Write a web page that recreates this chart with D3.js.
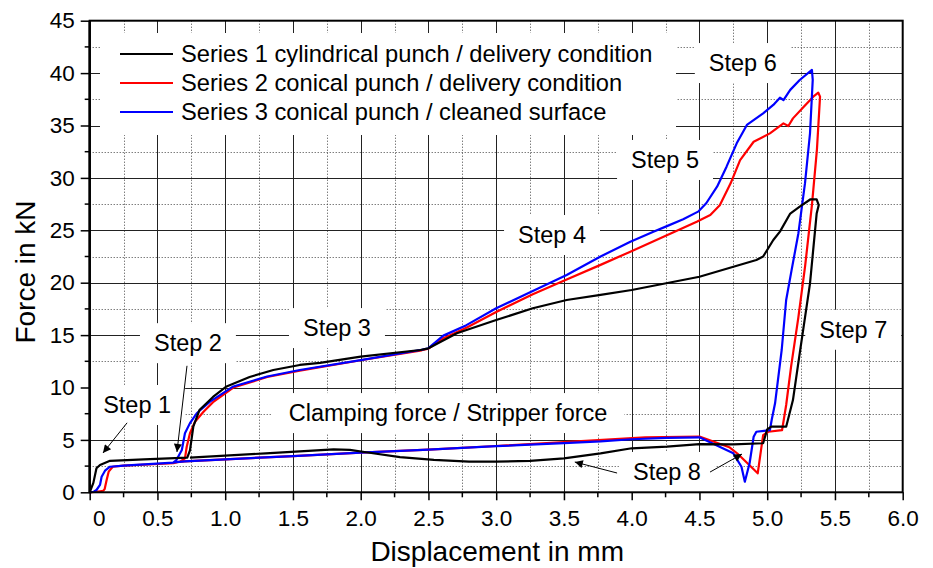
<!DOCTYPE html>
<html>
<head>
<meta charset="utf-8">
<script src="https://cdn.jsdelivr.net/npm/d3@7"></script>
<style>
  body { margin: 0; background: #fff; }
  text { font-family: "Liberation Sans", Arial, sans-serif; fill: #000; }
</style>
</head>
<body>
<div id="chart"></div>
<script>
// series 1: cylindrical punch / delivery condition (black)
const s1x = [0, 0.027, 0.05, 0.076, 0.15, 0.4, 0.72, 0.74, 0.765, 0.81, 0.91, 1.01, 1.18, 1.355, 1.55, 1.70, 2.0, 2.44, 2.5, 2.71, 3.0, 3.27, 3.52, 3.77, 4.0, 4.5, 4.92, 4.97, 5.045, 5.094, 5.17, 5.24, 5.32, 5.365, 5.38, 5.365, 5.316, 5.24, 5.19, 5.14, 5.03, 5.0, 4.97, 4.75, 4.5, 4.26, 4.0, 3.77, 3.5, 3.25, 3.0, 2.8, 2.54, 2.29, 2.04, 1.92, 1.8, 1.3, 0.74];
const s1y = [0, 0.9, 2.3, 2.6, 3.0, 3.15, 3.3, 4.0, 6.3, 7.85, 9.1, 10.1, 11.0, 11.67, 12.15, 12.35, 12.94, 13.58, 13.74, 15.17, 16.44, 17.56, 18.35, 18.83, 19.3, 20.57, 22.17, 22.5, 24.07, 24.87, 26.6, 27.25, 27.96, 27.96, 27.4, 26.6, 19.94, 13.26, 8.8, 6.26, 6.26, 6.0, 4.68, 4.58, 4.6, 4.35, 4.2, 3.72, 3.24, 3.0, 2.92, 2.92, 3.1, 3.35, 3.82, 4.05, 4.1, 3.72, 3.3];

// series 2: conical punch / delivery condition (red)
const s2x = [0, 0.05, 0.1, 0.11, 0.125, 0.14, 0.17, 0.25, 0.617, 0.666, 0.703, 0.716, 0.74, 0.777, 0.84, 0.91, 1.06, 1.31, 1.55, 1.70, 2.0, 2.45, 2.5, 2.61, 2.78, 3.0, 3.27, 3.52, 3.77, 3.99, 4.48, 4.58, 4.65, 4.73, 4.80, 4.90, 5.02, 5.12, 5.156, 5.19, 5.27, 5.34, 5.377, 5.39, 5.367, 5.33, 5.28, 5.23, 5.176, 5.14, 5.11, 5.008, 4.97, 4.93, 4.86, 4.78, 4.72, 4.5, 4.1, 3.5, 3.0, 2.5, 2.0, 1.5, 1.0, 0.7, 0.62];
const s2y = [0, 0.05, 0.15, 0.3, 1.17, 1.97, 2.44, 2.54, 2.77, 2.92, 3.24, 4.35, 5.63, 6.74, 7.69, 8.6, 10.0, 11.0, 11.6, 11.95, 12.6, 13.55, 13.7, 14.7, 15.7, 17.2, 18.9, 20.3, 21.7, 22.96, 25.82, 26.46, 27.4, 29.48, 31.7, 33.45, 34.25, 35.2, 34.95, 35.68, 36.8, 37.75, 38.13, 37.75, 32.7, 27.4, 21.6, 16.7, 11.96, 8.33, 5.94, 5.78, 5.46, 1.81, 2.7, 3.7, 4.3, 5.32, 5.25, 4.78, 4.42, 4.08, 3.78, 3.45, 3.15, 2.95, 2.85];

// series 3: conical punch / cleaned surface (blue)
const s3x = [0, 0.03, 0.05, 0.076, 0.088, 0.113, 0.15, 0.25, 0.617, 0.64, 0.68, 0.703, 0.74, 0.79, 0.888, 1.06, 1.31, 1.55, 2.0, 2.45, 2.5, 2.61, 2.78, 3.0, 3.27, 3.52, 3.77, 3.99, 4.16, 4.26, 4.38, 4.49, 4.55, 4.63, 4.70, 4.775, 4.85, 4.97, 5.045, 5.094, 5.12, 5.17, 5.24, 5.33, 5.336, 5.316, 5.279, 5.23, 5.18, 5.14, 5.107, 5.058, 5.033, 5.02, 4.92, 4.90, 4.87, 4.835, 4.81, 4.75, 4.5, 4.26, 4.0, 3.77, 3.5, 3.0, 2.5, 2.0, 1.5, 1.0, 0.7, 0.62];
const s3y = [0, 0.05, 0.22, 0.7, 1.49, 2.06, 2.44, 2.54, 2.83, 3.08, 4.04, 5.63, 6.6, 7.54, 8.65, 10.1, 11.05, 11.67, 12.62, 13.6, 13.75, 14.95, 15.95, 17.56, 19.2, 20.73, 22.5, 23.9, 24.87, 25.4, 26.05, 26.78, 27.58, 29.16, 31.07, 33.3, 35.05, 36.16, 36.96, 37.65, 37.43, 38.4, 39.34, 40.3, 39.35, 34.26, 29.5, 24.7, 21.2, 18.35, 13.58, 8.49, 6.9, 5.94, 5.78, 5.3, 2.77, 1.01, 2.44, 3.72, 5.25, 5.2, 5.06, 4.85, 4.7, 4.4, 4.08, 3.78, 3.45, 3.15, 2.95, 2.85];

const seriesNames = ["Series 1 cylindrical punch / delivery condition",
                     "Series 2 conical punch / delivery condition",
                     "Series 3 conical punch / cleaned surface"];
const seriesColors = ["#000000", "#ff0000", "#0000ff"];

const xTicks = [0, 0.5, 1.0, 1.5, 2.0, 2.5, 3.0, 3.5, 4.0, 4.5, 5.0, 5.5, 6.0];
const xTickLabels = ["0", "0.5", "1.0", "1.5", "2.0", "2.5", "3.0", "3.5", "4.0", "4.5", "5.0", "5.5", "6.0"];
const yTicks = [0, 5, 10, 15, 20, 25, 30, 35, 40, 45];

// annotations (data units)
const noteText = ["Step 1", "Step 2", "Step 3", "Step 4", "Step 5", "Step 6", "Step 7", "Step 8", "Clamping force / Stripper force"];
const noteX = [0.35, 0.725, 1.825, 3.412, 4.246, 4.82, 5.635, 4.26, 2.645];
const noteY = [8.33, 14.23, 15.67, 24.55, 31.71, 40.96, 15.51, 1.94, 7.56];
const arrowFrom = [[0.276, 6.63], [0.718, 12.07], [3.892, 1.84], [4.578, 1.93]];
const arrowTo = [[0.098, 3.75], [0.644, 3.85], [3.58, 2.89], [4.814, 3.65]];

const width = 933, height = 568;
const pLeft = 89.7, pRight = 902.7, pTop = 20.7, pBottom = 492.3;

const svg = d3.select("#chart").append("svg")
    .attr("width", width).attr("height", height);

const x = d3.scaleLinear().domain([0, 6]).range([pLeft, pRight]);
const y = d3.scaleLinear().domain([0, 45]).range([pBottom, pTop]);

// grid
const grid = svg.append("g");
const xMinor = d3.range(0.25, 6, 0.5);
const xMajor = d3.range(0.5, 6, 0.5);
const yMinor = d3.range(2.5, 45, 5);
const yMajor = d3.range(5, 45, 5);

grid.selectAll(".xmin").data(xMinor).join("line")
    .attr("x1", d => Math.round(x(d)) + 0.5).attr("x2", d => Math.round(x(d)) + 0.5)
    .attr("y1", pTop).attr("y2", pBottom)
    .attr("stroke", "#444").attr("stroke-width", 1).attr("stroke-dasharray", "1,2");
grid.selectAll(".ymin").data(yMinor).join("line")
    .attr("y1", d => Math.round(y(d)) + 0.5).attr("y2", d => Math.round(y(d)) + 0.5)
    .attr("x1", pLeft).attr("x2", pRight)
    .attr("stroke", "#444").attr("stroke-width", 1).attr("stroke-dasharray", "1,2");
grid.selectAll(".xmaj").data(xMajor).join("line")
    .attr("x1", d => Math.round(x(d)) + 0.5).attr("x2", d => Math.round(x(d)) + 0.5)
    .attr("y1", pTop).attr("y2", pBottom)
    .attr("stroke", "#222").attr("stroke-width", 1);
grid.selectAll(".ymaj").data(yMajor).join("line")
    .attr("y1", d => Math.round(y(d)) + 0.5).attr("y2", d => Math.round(y(d)) + 0.5)
    .attr("x1", pLeft).attr("x2", pRight)
    .attr("stroke", "#222").attr("stroke-width", 1);

// white label boxes covering grid
const boxes = svg.append("g");
const notes = svg.append("g").attr("font-size", 23.5);

// legend box
boxes.append("rect").attr("x", 100).attr("y", 33).attr("width", 576).attr("height", 102).attr("fill", "#fff");

noteText.forEach((t, i) => {
  const tx = notes.append("text")
      .attr("x", x(noteX[i])).attr("y", y(noteY[i]))
      .attr("dy", "0.35em").attr("text-anchor", "middle")
      .text(t);
  const bb = tx.node().getBBox();
  const padX = i === 8 ? 17 : 14;
  boxes.append("rect")
      .attr("x", bb.x - padX).attr("y", y(noteY[i]) - 20)
      .attr("width", bb.width + 2 * padX).attr("height", 40)
      .attr("fill", "#fff");
});

// curves
const line = d3.line().x(d => x(d[0])).y(d => y(d[1]));
const allSeries = [d3.zip(s1x, s1y), d3.zip(s2x, s2y), d3.zip(s3x, s3y)];
const curves = svg.append("g");
[1, 2, 0].forEach(i => {
  curves.append("path")
      .datum(allSeries[i])
      .attr("d", line)
      .attr("fill", "none")
      .attr("stroke", seriesColors[i])
      .attr("stroke-width", 2.2)
      .attr("stroke-linejoin", "round");
});

// arrows
svg.append("defs").append("marker")
    .attr("id", "ah").attr("viewBox", "0 0 10 10")
    .attr("refX", 10).attr("refY", 5)
    .attr("markerWidth", 12).attr("markerHeight", 8)
    .attr("markerUnits", "userSpaceOnUse")
    .attr("orient", "auto")
  .append("path").attr("d", "M0,0L10,5L0,10Z").attr("fill", "#000");

svg.append("g").selectAll("line").data(d3.zip(arrowFrom, arrowTo)).join("line")
    .attr("x1", d => x(d[0][0])).attr("y1", d => y(d[0][1]))
    .attr("x2", d => x(d[1][0])).attr("y2", d => y(d[1][1]))
    .attr("stroke", "#000").attr("stroke-width", 1)
    .attr("marker-end", "url(#ah)");

svg.node().appendChild(notes.node());

// legend
const legend = svg.append("g").attr("font-size", 23.7);
seriesNames.forEach((n, i) => {
  const ly = 54 + i * 29;
  legend.append("line").attr("x1", 120).attr("x2", 173).attr("y1", ly).attr("y2", ly)
      .attr("stroke", seriesColors[i]).attr("stroke-width", 2);
  legend.append("text").attr("x", 181).attr("y", ly).attr("dy", "0.35em").text(n);
});

// axes
const xAxis = svg.append("g")
    .attr("transform", `translate(0,${pBottom})`)
    .call(d3.axisBottom(x).tickValues(xTicks).tickFormat((d, i) => xTickLabels[i]).tickSize(8).tickPadding(10));
xAxis.selectAll("text").attr("font-size", 22.5).attr("font-family", "Liberation Sans, Arial, sans-serif");
xAxis.selectAll(".tick text").filter(d => d === 0).attr("dx", 9);
xAxis.selectAll(".tick line").attr("stroke-width", 1.5);
xAxis.select(".domain").remove();

svg.append("g").selectAll("line").data(d3.range(0.25, 6, 0.5)).join("line")
    .attr("x1", d => x(d)).attr("x2", d => x(d))
    .attr("y1", pBottom).attr("y2", pBottom + 5)
    .attr("stroke", "#000").attr("stroke-width", 1.5);

const yAxis = svg.append("g")
    .attr("transform", `translate(${pLeft},0)`)
    .call(d3.axisLeft(y).tickValues(yTicks).tickSize(9).tickPadding(6));
yAxis.selectAll("text").attr("font-size", 22.5).attr("font-family", "Liberation Sans, Arial, sans-serif");
yAxis.selectAll(".tick line").attr("stroke-width", 1.5);
yAxis.select(".domain").remove();

svg.append("g").selectAll("line").data(d3.range(2.5, 45, 5)).join("line")
    .attr("x1", pLeft - 5).attr("x2", pLeft)
    .attr("y1", d => y(d)).attr("y2", d => y(d))
    .attr("stroke", "#000").attr("stroke-width", 1.5);

// frame
svg.append("rect")
    .attr("x", pLeft).attr("y", pTop)
    .attr("width", pRight - pLeft).attr("height", pBottom - pTop)
    .attr("fill", "none").attr("stroke", "#000").attr("stroke-width", 2);
svg.append("line")
    .attr("x1", pLeft).attr("x2", pLeft).attr("y1", pTop).attr("y2", pBottom)
    .attr("stroke", "#000").attr("stroke-width", 2.5);

// axis titles
svg.append("text")
    .attr("x", (pLeft + pRight) / 2 + 1).attr("y", 561)
    .attr("text-anchor", "middle").attr("font-size", 28)
    .text("Displacement in mm");
svg.append("text")
    .attr("transform", `translate(35,${272}) rotate(-90)`)
    .attr("text-anchor", "middle").attr("font-size", 28)
    .text("Force in kN");
</script>
</body>
</html>
